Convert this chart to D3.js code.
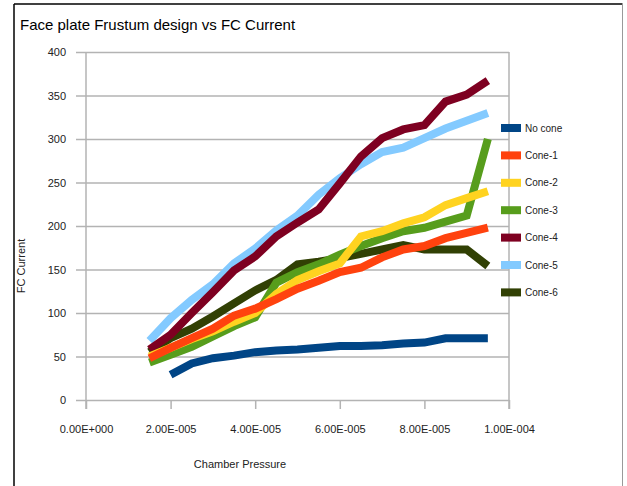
<!DOCTYPE html>
<html>
<head>
<meta charset="utf-8">
<title>Face plate Frustum design vs FC Current</title>
<script src="https://d3js.org/d3.v7.min.js"></script>
<style>
  body { margin: 0; background: #fff; }
  text { font-family: "Liberation Sans", Arial, sans-serif; }
</style>
</head>
<body>
<div id="chart"></div>
<script>
// chamber pressure values (x)
const pressure = [1.5e-5, 2.0e-5, 2.5e-5, 3.0e-5, 3.5e-5, 4.0e-5, 4.5e-5, 5.0e-5, 5.5e-5,
                  6.0e-5, 6.5e-5, 7.0e-5, 7.5e-5, 8.0e-5, 8.5e-5, 9.0e-5, 9.5e-5]

// FC current per design
const noCone = [null, 29, 42, 48, 51, 55, 57, 58, 60, 62, 62, 63, 65, 66, 71, 71, 71]
const cone1 = [48, 60, 71, 82, 97, 105, 116, 128, 137, 147, 152, 164, 173, 177, 186, 192, 198]
const cone2 = [50, 60, 70, 79, 90, 100, 122, 138, 148, 157, 188, 194, 203, 210, 224, 232, 240]
const cone3 = [43, 52, 61, 73, 85, 95, 135, 147, 156, 167, 177, 186, 194, 198, 205, 212, 300]
const cone4 = [58, 75, 100, 124, 149, 165, 188, 204, 219, 249, 280, 301, 311, 316, 343, 351, 367]
const cone5 = [68, 94, 115, 133, 157, 174, 195, 212, 236, 255, 271, 285, 290, 301, 312, 321, 330]
const cone6 = [55, 71, 82, 96, 111, 126, 138, 156, 159, 163, 168, 173, 178, 173, 173, 173, 154]

const seriesNames = ["No cone", "Cone-1", "Cone-2", "Cone-3", "Cone-4", "Cone-5", "Cone-6"]
const seriesValues = [noCone, cone1, cone2, cone3, cone4, cone5, cone6]
const colors = ["#004586", "#ff420e", "#ffd320", "#579d1c", "#7e0021", "#83caff", "#314004"]

const xTicks = [0, 2e-5, 4e-5, 6e-5, 8e-5, 1e-4]
const xTickLabels = ["0.00E+000", "2.00E-005", "4.00E-005", "6.00E-005", "8.00E-005", "1.00E-004"]
const yTicks = [0, 50, 100, 150, 200, 250, 300, 350, 400]

let W = 627, H = 486
let plot = {left: 86, right: 509, top: 52, bottom: 400}

let svg = d3.select("#chart")
    .append("svg")
        .attr("width", W)
        .attr("height", H)

// outer frame
svg.append("line").attr("x1", 14).attr("y1", 4).attr("x2", 14).attr("y2", H)
    .attr("stroke", "#000").attr("stroke-width", 1.5)
svg.append("line").attr("x1", 14).attr("y1", 4).attr("x2", 622.5).attr("y2", 4)
    .attr("stroke", "#000").attr("stroke-width", 1.5)
svg.append("line").attr("x1", 622.5).attr("y1", 4).attr("x2", 622.5).attr("y2", H)
    .attr("stroke", "#999").attr("stroke-width", 1)

svg.append("text")
    .attr("x", 20)
    .attr("y", 30)
    .attr("font-size", "15px")
    .attr("fill", "#000")
    .text("Face plate Frustum design vs FC Current")

let xScale = d3.scaleLinear()
    .domain([0, 1e-4])
    .range([plot.left, plot.right])

let yScale = d3.scaleLinear()
    .domain([0, 400])
    .range([plot.bottom, plot.top])

// horizontal grid + y labels
let yAxis = d3.axisLeft(yScale)
    .tickValues(yTicks)
    .tickSize(-(plot.right - plot.left + 10))
    .tickPadding(10)

let gy = svg.append("g")
    .attr("transform", "translate(" + (plot.left - 10) + ",0)")
    .call(yAxis)
gy.select(".domain").remove()
gy.selectAll("line").attr("stroke", "#b3b3b3").attr("stroke-width", 1.5)
gy.selectAll("text").attr("font-size", "11px").attr("fill", "#222")
    .attr("font-family", "Liberation Sans, Arial, sans-serif")

let xAxis = d3.axisBottom(xScale)
    .tickValues(xTicks)
    .tickSize(9)
    .tickPadding(16)
    .tickFormat(function(d, i) { return xTickLabels[i] })

let gx = svg.append("g")
    .attr("transform", "translate(0," + plot.bottom + ")")
    .call(xAxis)
gx.select(".domain").remove()
gx.selectAll("line").attr("stroke", "#b3b3b3").attr("stroke-width", 1.5)
gx.selectAll("text").attr("font-size", "11px").attr("fill", "#222")
    .attr("font-family", "Liberation Sans, Arial, sans-serif")

// vertical frame lines of the plot
svg.append("line").attr("x1", plot.left).attr("x2", plot.left)
    .attr("y1", plot.top).attr("y2", plot.bottom + 9)
    .attr("stroke", "#b3b3b3").attr("stroke-width", 1.5)
svg.append("line").attr("x1", plot.right).attr("x2", plot.right)
    .attr("y1", plot.top).attr("y2", plot.bottom + 9)
    .attr("stroke", "#b3b3b3").attr("stroke-width", 1.5)

let line = d3.line()
    .defined(function(d) { return d[1] != null })
    .x(function(d) { return xScale(d[0]) })
    .y(function(d) { return yScale(d[1]) })

// last series drawn first, so "No cone" sits on top
for (let s = seriesValues.length - 1; s >= 0; s--) {
    let pts = pressure.map(function(p, i) { return [p, seriesValues[s][i]] })
    svg.append("path")
        .datum(pts)
        .attr("d", line)
        .attr("fill", "none")
        .attr("stroke", colors[s])
        .attr("stroke-width", 8)
        .attr("stroke-linejoin", "miter")
        .attr("stroke-linecap", "butt")
}

// legend
let legend = svg.append("g")
seriesNames.forEach(function(name, i) {
    let cy = 128 + i * 27.4
    legend.append("rect")
        .attr("x", 501).attr("y", cy - 4)
        .attr("width", 20).attr("height", 8)
        .attr("fill", colors[i])
    legend.append("text")
        .attr("x", 525).attr("y", cy + 3.5)
        .attr("font-size", "10px")
        .attr("fill", "#222")
        .text(name)
})

svg.append("text")
    .attr("x", 240)
    .attr("y", 468)
    .attr("text-anchor", "middle")
    .attr("font-size", "11px")
    .attr("fill", "#222")
    .text("Chamber Pressure")

svg.append("text")
    .attr("transform", "translate(25,266) rotate(-90)")
    .attr("text-anchor", "middle")
    .attr("font-size", "11px")
    .attr("fill", "#222")
    .text("FC Current")
</script>
</body>
</html>
